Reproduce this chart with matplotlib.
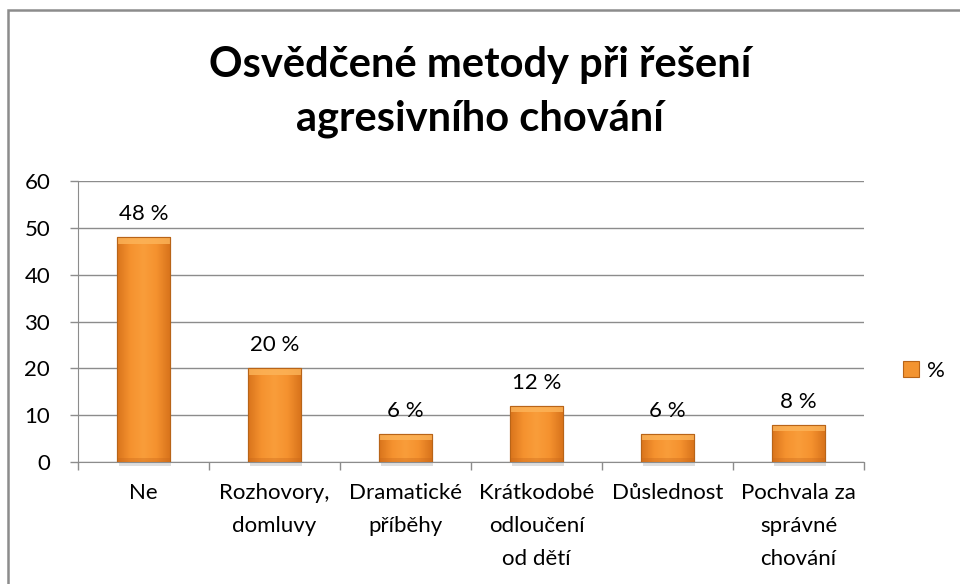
import numpy as np
import matplotlib.pyplot as plt
from matplotlib.patches import Rectangle
from matplotlib.colors import LinearSegmentedColormap

# data
categories = ["Ne", "Rozhovory,\ndomluvy", "Dramatické\npříběhy",
              "Krátkodobé\nodloučení\nod dětí", "Důslednost",
              "Pochvala za\nsprávné\nchování"]
values = [48, 20, 6, 12, 6, 8]
bar_labels = ["48 %", "20 %", "6 %", "12 %", "6 %", "8 %"]
y_ticks = [0, 10, 20, 30, 40, 50, 60]
title_lines = ["Osvědčené metody při řešení", "agresivního chování"]
series_name = "%"

plt.rcParams['font.family'] = ['Lato', 'DejaVu Sans']
FS = 16

fig = plt.figure(figsize=(9.6, 5.84), dpi=100)
ax = fig.add_axes([78 / 960, 1 - 462 / 584, (864 - 78) / 960, (462 - 181) / 584])

# rámeček kolem grafu
fig.patches.append(Rectangle((8 / 960, -0.1), 1.2, 1.1 - 10 / 584,
                             transform=fig.transFigure, fill=False,
                             edgecolor='#8c8c8c', linewidth=1.8, zorder=0))

x = np.arange(len(categories))
bars = ax.bar(x, values, width=0.4, color='#f39431', edgecolor='#b86418',
              linewidth=0.8, zorder=3, label=series_name)

# gradient na sloupcích
grad_cmap = LinearSegmentedColormap.from_list(
    'g', ['#d9741c', '#f5922f', '#f99d3a', '#f5922f', '#d9741c'])
grad = np.linspace(0, 1, 64).reshape(1, -1)
for b in bars:
    x0, w, h = b.get_x(), b.get_width(), b.get_height()
    # stín pod sloupcem
    ax.add_patch(Rectangle((x0 + 0.01, -0.8), w, 0.8, facecolor='#c8c8c8',
                           edgecolor='none', alpha=0.6, zorder=2.5,
                           clip_on=False))
    im = ax.imshow(grad, cmap=grad_cmap, aspect='auto',
                   extent=[x0, x0 + w, 0, h], zorder=3.5)
    im.set_clip_path(b)
    # světlejší horní hrana
    ax.add_patch(Rectangle((x0, h - 1.4), w, 1.4, facecolor='#fdb55a',
                           edgecolor='none', alpha=0.8, zorder=4))
    ax.add_patch(Rectangle((x0, 0), w, 0.8, facecolor='#c8661a',
                           edgecolor='none', alpha=0.35, zorder=4))
    ax.add_patch(Rectangle((x0, 0), w, h, facecolor='none',
                           edgecolor='#b86418', linewidth=0.8, zorder=4.5))

for xi, v, lab in zip(x, values, bar_labels):
    ax.text(xi, v + 3.6, lab, ha='center', va='baseline', fontsize=FS,
            color='black', zorder=5)

ax.set_xlim(-0.5, len(categories) - 0.5)
ax.set_ylim(0, 60)
ax.set_yticks(y_ticks)
ax.set_yticklabels([str(t) for t in y_ticks], fontsize=FS)
ax.yaxis.grid(True, color='#8c8c8c', linewidth=1.0, zorder=0)
ax.set_axisbelow(True)

ax.set_xticks(x)
ax.set_xticklabels(categories, fontsize=FS, linespacing=1.83, va='top')
ax.tick_params(axis='x', length=0, pad=15)
ax.set_xticks(np.arange(len(categories) + 1) - 0.5, minor=True)
ax.tick_params(axis='x', which='minor', length=6, color='#8c8c8c', width=1)
ax.tick_params(axis='y', length=6, color='#8c8c8c', width=1, pad=14)

for s in ['top', 'right']:
    ax.spines[s].set_visible(False)
ax.spines['left'].set_color('#8c8c8c')
ax.spines['bottom'].set_color('#8c8c8c')

# nadpis po řádcích (účaří 77 a 130 px od horního okraje)
for line, base_px in zip(title_lines, [77, 130]):
    fig.text(0.5, 1 - base_px / 584, line, ha='center', va='baseline',
             fontsize=30, fontweight='bold')

leg = ax.legend(loc='center left', bbox_to_anchor=(1.035, 0.324), frameon=False,
                fontsize=FS, handlelength=0.75, handleheight=0.75,
                handletextpad=0.35, borderpad=0)

fig.savefig('out.png', dpi=100)
